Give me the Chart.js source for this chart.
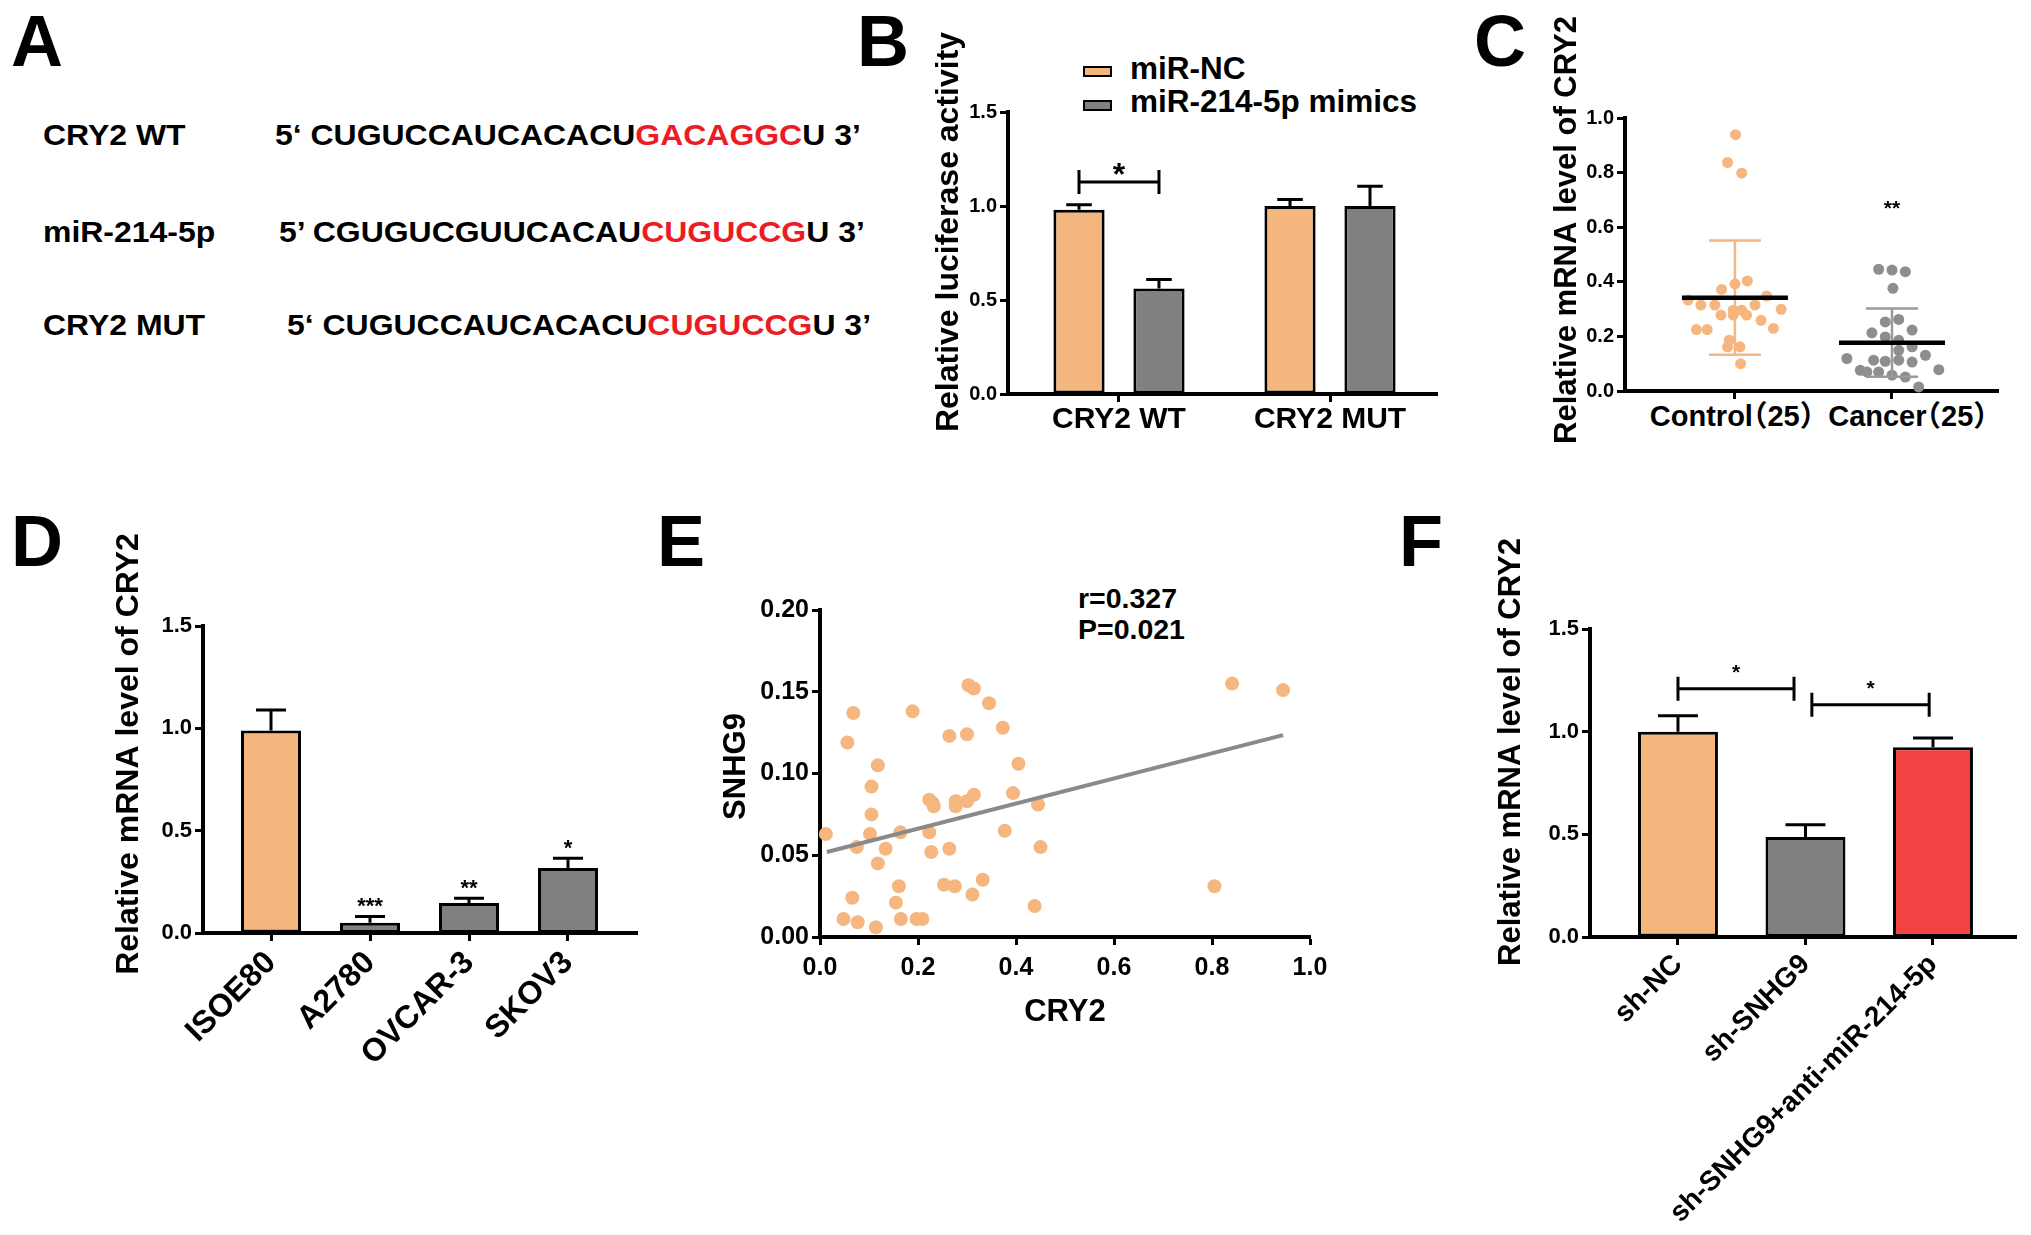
<!DOCTYPE html>
<html>
<head>
<meta charset="utf-8">
<script src="https://cdn.jsdelivr.net/npm/chart.js@4.4.0/dist/chart.umd.min.js"></script>
<style>
  html, body { margin: 0; padding: 0; background: #fff; }
  #page { position: relative; width: 2031px; height: 1235px; overflow: hidden; background: #fff;
          font-family: "Liberation Sans", Arial, "Noto Sans CJK SC", sans-serif; font-weight: bold; color: #000; }
  .box { position: absolute; }
  .txt { position: absolute; white-space: nowrap; line-height: 1; }
  .letter { font-size: 72px; }
  .row { font-size: 30px; transform: scaleX(1.065); transform-origin: 0 50%; }
  .red { color: #ec1c24; }
  .swatch { position: absolute; border: 2.5px solid #000; box-sizing: border-box; }
  .cat { font-size: 29px; transform: translateX(-50%); font-feature-settings: "halt" 1; }
</style>
</head>
<body>
<div id="page">
  <!-- panel letters -->
  <div class="txt letter" style="left:11px;top:5px">A</div>
  <div class="txt letter" style="left:857px;top:5px">B</div>
  <div class="txt letter" style="left:1474px;top:5px">C</div>
  <div class="txt letter" style="left:11px;top:505px">D</div>
  <div class="txt letter" style="left:657px;top:505px">E</div>
  <div class="txt letter" style="left:1399px;top:505px">F</div>

  <!-- panel A: sequences -->
  <div class="txt row" style="left:43px;top:120px">CRY2 WT</div>
  <div class="txt row" style="left:275px;top:120px">5‘ CUGUCCAUCACACU<span class="red">GACAGGC</span>U 3’</div>
  <div class="txt row" style="left:43px;top:217px">miR-214-5p</div>
  <div class="txt row" style="left:279px;top:217px">5’ CGUGUCGUUCACAU<span class="red">CUGUCCG</span>U 3’</div>
  <div class="txt row" style="left:43px;top:310px">CRY2 MUT</div>
  <div class="txt row" style="left:287px;top:310px">5‘ CUGUCCAUCACACU<span class="red">CUGUCCG</span>U 3’</div>

  <!-- panel B legend -->
  <div class="swatch" style="left:1083px;top:66px;width:29px;height:11px;background:#F3B77E"></div>
  <div class="txt" style="left:1130px;top:53px;font-size:31.5px">miR-NC</div>
  <div class="swatch" style="left:1083px;top:100px;width:29px;height:11px;background:#808080"></div>
  <div class="txt" style="left:1130px;top:86px;font-size:31.5px">miR-214-5p mimics</div>

  <!-- panel C group labels -->
  <div class="txt cat" style="left:1732px;top:402px">Control（25）</div>
  <div class="txt cat" style="left:1908px;top:402px">Cancer（25）</div>

  <!-- panel E annotation -->
  <div class="txt" style="left:1078px;top:584px;font-size:28.5px">r=0.327</div>
  <div class="txt" style="left:1078px;top:615px;font-size:28.5px">P=0.021</div>

  <div class="box" style="left:930px;top:20px;width:530px;height:430px"><canvas id="chartB"></canvas></div>
  <div class="box" style="left:1548px;top:0px;width:483px;height:460px"><canvas id="chartC"></canvas></div>
  <div class="box" style="left:106px;top:520px;width:554px;height:560px"><canvas id="chartD"></canvas></div>
  <div class="box" style="left:717px;top:560px;width:628px;height:471px"><canvas id="chartE"></canvas></div>
  <div class="box" style="left:1493px;top:520px;width:538px;height:715px"><canvas id="chartF"></canvas></div>
</div>

<script>
// ---- B: luciferase reporter ----
var lucCategories = ['CRY2 WT', 'CRY2 MUT'];
var lucNC = [0.98, 1.0];
var lucNCErr = [0.027, 0.034];
var lucMimic = [0.561, 1.0];
var lucMimicErr = [0.048, 0.105];

// ---- C: tissue samples ----
var cGroups = ['Control（25）', 'Cancer（25）'];
var controlValues = [0.939, 0.837, 0.798, 0.403, 0.392, 0.372, 0.348, 0.333, 0.315, 0.315, 0.315, 0.299, 0.296,
                     0.278, 0.278, 0.278, 0.259, 0.225, 0.225, 0.229, 0.186, 0.162, 0.162, 0.100, 0.296];
var controlJitter = [0.004, -0.047, 0.043, 0.079, 0.0, -0.085, 0.202, -0.298, -0.217, -0.128, 0.128, 0.294, -0.011,
                     -0.089, -0.011, 0.074, 0.166, -0.245, -0.177, 0.245, -0.036, -0.047, 0.032, 0.036, 0.043];
var cancerValues = [0.446, 0.443, 0.437, 0.376, 0.253, 0.262, 0.213, 0.223, 0.198, 0.186, 0.162, 0.119, 0.113,
                    0.109, 0.113, 0.131, 0.106, 0.076, 0.070, 0.070, 0.058, 0.051, 0.078, 0.015, 0.149];
var cancerJitter = [-0.085, 0.0, 0.085, 0.006, -0.043, 0.043, -0.128, 0.128, -0.043, 0.043, 0.128, -0.287, -0.117,
                    -0.043, 0.043, 0.213, 0.128, -0.202, -0.160, -0.085, 0.0, 0.085, 0.298, 0.170, 0.043];
var groupMeans = [0.342, 0.177];
var groupSD = [0.209, 0.125];

// ---- D: cell lines ----
var cellLines = ['ISOE80', 'A2780', 'OVCAR-3', 'SKOV3'];
var cellValues = [0.99, 0.05, 0.146, 0.317];
var cellErr = [0.10, 0.031, 0.024, 0.048];
var cellStars = ['', '***', '**', '*'];

// ---- E: correlation ----
var cry2Values = [0.012, 0.068, 0.056, 0.075, 0.066, 0.048, 0.077, 0.114, 0.105, 0.105, 0.102, 0.118, 0.134,
                  0.118, 0.164, 0.161, 0.155, 0.165, 0.189, 0.197, 0.209, 0.223, 0.230, 0.232, 0.223, 0.227,
                  0.264, 0.264, 0.253, 0.275, 0.277, 0.277, 0.300, 0.303, 0.314, 0.314, 0.300, 0.311, 0.332,
                  0.345, 0.373, 0.377, 0.405, 0.394, 0.445, 0.450, 0.438, 0.805, 0.841, 0.945];
var snhg9Values = [0.063, 0.137, 0.119, 0.055, 0.024, 0.011, 0.009, 0.006, 0.092, 0.075, 0.063, 0.105, 0.054,
                   0.045, 0.064, 0.031, 0.021, 0.011, 0.138, 0.011, 0.011, 0.084, 0.082, 0.080, 0.064, 0.052,
                   0.123, 0.054, 0.032, 0.031, 0.083, 0.080, 0.124, 0.154, 0.152, 0.087, 0.083, 0.026, 0.035,
                   0.143, 0.128, 0.065, 0.106, 0.088, 0.081, 0.055, 0.019, 0.031, 0.155, 0.151];
var fitX = [0.014, 0.945];
var fitY = [0.052, 0.1235];

// ---- F: rescue ----
var shGroups = ['sh-NC', 'sh-SNHG9', 'sh-SNHG9+anti-miR-214-5p'];
var shValues = [1.0, 0.487, 0.924];
var shErr = [0.078, 0.06, 0.045];

var FONT = "'Liberation Sans', Arial, 'Noto Sans CJK SC', sans-serif";
var ORANGE = '#F3B77E', GRAY = '#808080', RED = '#F24343';
var ORANGE_PT = '#F5B67F', GRAY_PT = '#8E8E8E';

Chart.defaults.font.family = FONT;
Chart.defaults.font.weight = 'bold';
Chart.defaults.color = '#000';
Chart.defaults.animation = false;
Chart.defaults.plugins.legend.display = false;
Chart.defaults.plugins.tooltip.enabled = false;

function fixW(w) { return function(s) { s.width = w; }; }
function fixH(h) { return function(s) { s.height = h; }; }
function onlyTicks(vals) { return function(s) { s.ticks = vals.map(function(v) { return {value: v}; }); }; }
function idx(n) { var a = []; for (var i = 0; i < n; i++) a.push(i); return a; }
function fixed(d) { return function(v) { return Number(v).toFixed(d); }; }

var BORDER = { display: true, color: '#000', width: 4 };
var GRID = { display: true, drawOnChartArea: false, drawTicks: true, tickLength: 8, tickWidth: 3, tickColor: '#000', offset: false };

// vertical axis title, placed relative to the plot area
var yTitlePlugin = {
  id: 'yTitle',
  afterDraw: function(chart, args, o) {
    if (!o.text) return;
    var ctx = chart.ctx, a = chart.chartArea;
    ctx.save();
    ctx.translate(o.x, (a.top + a.bottom) / 2 + o.dy);
    ctx.rotate(-Math.PI / 2);
    ctx.font = 'bold ' + o.size + 'px ' + FONT;
    ctx.textAlign = 'center';
    ctx.textBaseline = 'middle';
    ctx.fillStyle = '#000';
    ctx.fillText(o.text, 0, 0);
    ctx.restore();
  }
};

// error bars (upper only) + optional stars above them
var errorBarPlugin = {
  id: 'errorBars',
  afterDatasetsDraw: function(chart) {
    var ctx = chart.ctx, ys = chart.scales.y;
    chart.data.datasets.forEach(function(ds, di) {
      if (!ds.errors) return;
      chart.getDatasetMeta(di).data.forEach(function(bar, i) {
        var top = ys.getPixelForValue(ds.data[i].y + ds.errors[i]);
        var half = bar.width / 4;
        ctx.save();
        ctx.strokeStyle = '#000';
        ctx.lineWidth = 3;
        ctx.beginPath();
        ctx.moveTo(bar.x, bar.y);
        ctx.lineTo(bar.x, top);
        ctx.moveTo(bar.x - half, top);
        ctx.lineTo(bar.x + half, top);
        ctx.stroke();
        if (ds.stars && ds.stars[i]) {
          ctx.fillStyle = '#000';
          ctx.font = 'bold 22px ' + FONT;
          ctx.textAlign = 'center';
          ctx.textBaseline = 'alphabetic';
          ctx.fillText(ds.stars[i], bar.x, top - 3);
        }
        ctx.restore();
      });
    });
  }
};

// significance brackets
var bracketPlugin = {
  id: 'brackets',
  afterDatasetsDraw: function(chart, args, opts) {
    var ctx = chart.ctx, xs = chart.scales.x, ys = chart.scales.y;
    function px(ref) {
      if (Array.isArray(ref)) return chart.getDatasetMeta(ref[0]).data[ref[1]].x;
      return xs.getPixelForValue(ref);
    }
    (opts.items || []).forEach(function(b) {
      var x0 = px(b.from), x1 = px(b.to), y = ys.getPixelForValue(b.y);
      ctx.save();
      ctx.strokeStyle = '#000';
      ctx.lineWidth = 3;
      ctx.beginPath();
      ctx.moveTo(x0, y); ctx.lineTo(x1, y);
      ctx.moveTo(x0, y - 12); ctx.lineTo(x0, y + 12);
      ctx.moveTo(x1, y - 12); ctx.lineTo(x1, y + 12);
      ctx.stroke();
      ctx.fillStyle = '#000';
      ctx.font = 'bold ' + b.size + 'px ' + FONT;
      ctx.textAlign = 'center';
      ctx.textBaseline = 'alphabetic';
      ctx.fillText(b.label, (x0 + x1) / 2, y - b.gap + 0.58 * b.size);
      ctx.restore();
    });
  }
};

// mean line and SD bars for the dot plot
var meanSDPlugin = {
  id: 'meanSD',
  afterDatasetsDraw: function(chart, args, opts) {
    var ctx = chart.ctx, xs = chart.scales.x, ys = chart.scales.y;
    opts.means.forEach(function(m, g) {
      var x = xs.getPixelForValue(g);
      var yTop = ys.getPixelForValue(m + opts.sds[g]);
      var yBot = ys.getPixelForValue(m - opts.sds[g]);
      var yM = ys.getPixelForValue(m);
      ctx.save();
      ctx.strokeStyle = opts.colors[g];
      ctx.lineWidth = 2.5;
      ctx.beginPath();
      ctx.moveTo(x, yTop); ctx.lineTo(x, yBot);
      ctx.moveTo(x - 26, yTop); ctx.lineTo(x + 26, yTop);
      ctx.moveTo(x - 26, yBot); ctx.lineTo(x + 26, yBot);
      ctx.stroke();
      ctx.strokeStyle = '#000';
      ctx.lineWidth = 4.5;
      ctx.beginPath();
      ctx.moveTo(x - 53, yM); ctx.lineTo(x + 53, yM);
      ctx.stroke();
      ctx.restore();
    });
    (opts.stars || []).forEach(function(s) {
      ctx.save();
      ctx.fillStyle = '#000';
      ctx.font = 'bold 21px ' + FONT;
      ctx.textAlign = 'center';
      ctx.fillText(s.text, xs.getPixelForValue(s.x), ys.getPixelForValue(s.y) + 0.58 * 21);
      ctx.restore();
    });
  }
};

// B
new Chart(document.getElementById('chartB'), {
  type: 'bar',
  data: {
    datasets: [
      { label: 'miR-NC', data: lucNC.map(function(v, i) { return {x: i, y: v}; }), errors: lucNCErr,
        backgroundColor: ORANGE, borderColor: '#000', borderWidth: 3, borderSkipped: false,
        categoryPercentage: 0.758, barPercentage: 0.64 },
      { label: 'miR-214-5p mimics', data: lucMimic.map(function(v, i) { return {x: i, y: v}; }), errors: lucMimicErr,
        backgroundColor: GRAY, borderColor: '#000', borderWidth: 3, borderSkipped: false,
        categoryPercentage: 0.758, barPercentage: 0.64 }
    ]
  },
  options: {
    responsive: true, maintainAspectRatio: false,
    layout: { padding: { top: 92, right: 23, bottom: 0, left: 0 } },
    scales: {
      x: { type: 'linear', min: -0.526, max: 1.507, offset: false, z: 1,
           afterFit: fixH(56), afterBuildTicks: onlyTicks(idx(lucCategories.length)),
           border: BORDER, grid: GRID,
           ticks: { autoSkip: false, maxRotation: 0, padding: 0, font: { size: 30 },
                    callback: function(v) { return lucCategories[Math.round(v)]; } } },
      y: { min: 0, max: 1.5, afterFit: fixW(78), border: BORDER, grid: GRID,
           ticks: { stepSize: 0.5, font: { size: 20 }, callback: fixed(1) } }
    },
    plugins: {
      yTitle: { text: 'Relative luciferase activity', size: 32, x: 19, dy: -21 },
      brackets: { items: [ { from: [0, 0], to: [1, 0], y: 1.128, label: '*', size: 32, gap: 15 } ] }
    }
  },
  plugins: [errorBarPlugin, bracketPlugin, yTitlePlugin]
});

// C
new Chart(document.getElementById('chartC'), {
  type: 'scatter',
  data: {
    datasets: [
      { label: cGroups[0], data: controlValues.map(function(v, i) { return {x: 0 + controlJitter[i], y: v}; }),
        backgroundColor: ORANGE_PT, pointRadius: 5.5, borderWidth: 0, clip: false },
      { label: cGroups[1], data: cancerValues.map(function(v, i) { return {x: 1 + cancerJitter[i], y: v}; }),
        backgroundColor: GRAY_PT, pointRadius: 5.5, borderWidth: 0, clip: false }
    ]
  },
  options: {
    responsive: true, maintainAspectRatio: false,
    layout: { padding: { top: 118, right: 33, bottom: 0, left: 0 } },
    scales: {
      x: { type: 'linear', min: -0.70, max: 1.675, afterFit: fixH(69),
           afterBuildTicks: onlyTicks(idx(cGroups.length)), border: BORDER, grid: GRID,
           ticks: { display: false } },
      y: { min: 0, max: 1.0, afterFit: fixW(77), border: BORDER, grid: GRID,
           ticks: { stepSize: 0.2, font: { size: 20 }, callback: fixed(1) } }
    },
    plugins: {
      yTitle: { text: 'Relative mRNA level of CRY2', size: 31, x: 19, dy: -24.5 },
      meanSD: { means: groupMeans, sds: groupSD, colors: [ORANGE_PT, '#9a9a9a'],
                stars: [ { x: 1, y: 0.688, text: '**' } ] }
    }
  },
  plugins: [meanSDPlugin, yTitlePlugin]
});

// D
new Chart(document.getElementById('chartD'), {
  type: 'bar',
  data: {
    datasets: [
      { data: cellValues.map(function(v, i) { return {x: i, y: v}; }), errors: cellErr, stars: cellStars,
        backgroundColor: [ORANGE, GRAY, GRAY, GRAY], borderColor: '#000', borderWidth: 3, borderSkipped: false,
        categoryPercentage: 1, barPercentage: 0.606 }
    ]
  },
  options: {
    responsive: true, maintainAspectRatio: false,
    layout: { padding: { top: 106, right: 23, bottom: 0, left: 0 } },
    scales: {
      x: { type: 'linear', min: -0.687, max: 3.697, offset: false, z: 1,
           afterFit: fixH(147), afterBuildTicks: onlyTicks(idx(cellLines.length)),
           border: BORDER, grid: GRID,
           ticks: { autoSkip: false, minRotation: 45, maxRotation: 45, font: { size: 32 },
                    callback: function(v) { return cellLines[Math.round(v)]; } } },
      y: { min: 0, max: 1.5, afterFit: fixW(97), border: BORDER, grid: GRID,
           ticks: { stepSize: 0.5, font: { size: 22 }, callback: fixed(1) } }
    },
    plugins: { yTitle: { text: 'Relative mRNA level of CRY2', size: 32, x: 23, dy: -25.5 } }
  },
  plugins: [errorBarPlugin, yTitlePlugin]
});

// E
new Chart(document.getElementById('chartE'), {
  type: 'scatter',
  data: {
    datasets: [
      { type: 'line', data: fitX.map(function(x, i) { return {x: x, y: fitY[i]}; }),
        borderColor: '#8a8a8a', borderWidth: 4, pointRadius: 0, order: 0 },
      { data: cry2Values.map(function(x, i) { return {x: x, y: snhg9Values[i]}; }),
        backgroundColor: ORANGE_PT, pointRadius: 7, borderWidth: 0, clip: false, order: 1 }
    ]
  },
  options: {
    responsive: true, maintainAspectRatio: false,
    layout: { padding: { top: 50, right: 35, bottom: 0, left: 0 } },
    scales: {
      x: { type: 'linear', min: 0, max: 1.0, afterFit: fixH(94), border: BORDER, grid: GRID,
           ticks: { stepSize: 0.2, padding: 8, font: { size: 25 }, callback: fixed(1) },
           title: { display: true, text: 'CRY2', font: { size: 31 }, padding: 0 } },
      y: { min: 0, max: 0.2, afterFit: fixW(103), border: BORDER, grid: GRID,
           ticks: { stepSize: 0.05, font: { size: 25 }, callback: fixed(2) } }
    },
    plugins: { yTitle: { text: 'SNHG9', size: 31, x: 19, dy: -7 } }
  },
  plugins: [yTitlePlugin]
});

// F
new Chart(document.getElementById('chartF'), {
  type: 'bar',
  data: {
    datasets: [
      { data: shValues.map(function(v, i) { return {x: i, y: v}; }), errors: shErr,
        backgroundColor: [ORANGE, GRAY, RED], borderColor: '#000', borderWidth: 3, borderSkipped: false,
        categoryPercentage: 1, barPercentage: 0.627 }
    ]
  },
  options: {
    responsive: true, maintainAspectRatio: false,
    layout: { padding: { top: 109, right: 15, bottom: 0, left: 0 } },
    scales: {
      x: { type: 'linear', min: -0.69, max: 2.651, offset: false, z: 1,
           afterFit: fixH(298), afterBuildTicks: onlyTicks(idx(shGroups.length)),
           border: BORDER, grid: GRID,
           ticks: { autoSkip: false, minRotation: 45, maxRotation: 45, font: { size: 28 },
                    callback: function(v) { return shGroups[Math.round(v)]; } } },
      y: { min: 0, max: 1.5, afterFit: fixW(97), border: BORDER, grid: GRID,
           ticks: { stepSize: 0.5, font: { size: 22 }, callback: fixed(1) } }
    },
    plugins: {
      yTitle: { text: 'Relative mRNA level of CRY2', size: 31, x: 18, dy: -31 },
      brackets: { items: [
        { from: 0, to: 0.91, y: 1.209, label: '*', size: 21, gap: 22 },
        { from: 1.05, to: 1.97, y: 1.131, label: '*', size: 21, gap: 22 }
      ] }
    }
  },
  plugins: [errorBarPlugin, bracketPlugin, yTitlePlugin]
});
</script>
</body>
</html>
